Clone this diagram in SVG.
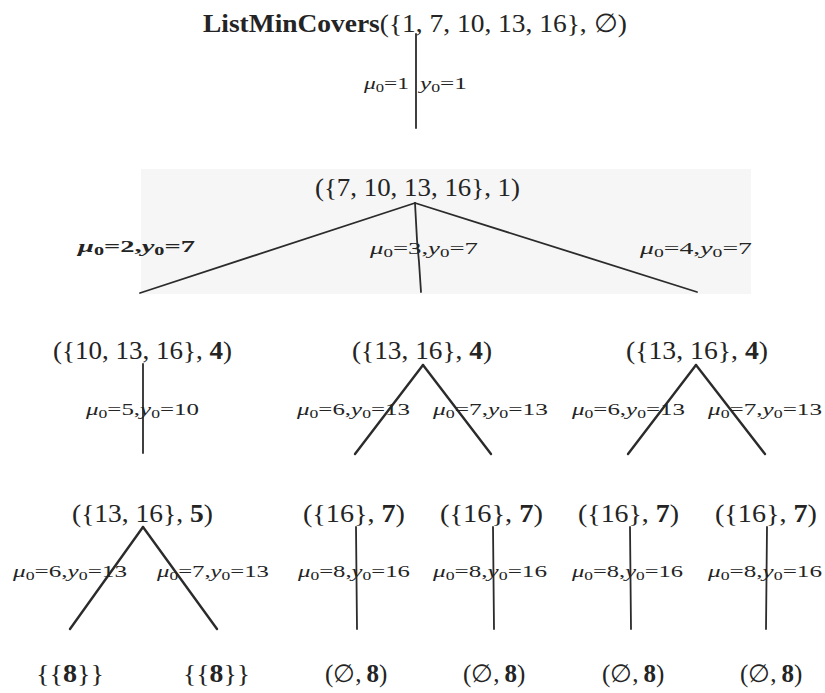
<svg xmlns="http://www.w3.org/2000/svg" width="825" height="693" viewBox="0 0 825 693">
  <style>
    .t { font-family: "Liberation Serif", "DejaVu Serif", serif; fill: #242424; }
    .n { font-size: 26px; }
    .lf { font-size: 25px; }
    .lb { font-size: 17px; }
    .b { font-weight: bold; }
    .i { font-style: italic; }
    .e { stroke: #2b2b2b; stroke-width: 1.8; fill: none; stroke-linecap: round; }
    .w { stroke-width: 2.4; }
  </style>
  <rect width="825" height="693" fill="#ffffff"/>
  <!-- shaded band behind the second level -->
  <rect x="141" y="169" width="610" height="125" fill="#f6f6f6"/>

  <g id="edges">
    <line class="e" x1="416" y1="34" x2="416" y2="128"/>
    <line class="e" x1="415" y1="203" x2="140" y2="293"/>
    <line class="e" x1="415" y1="203" x2="697" y2="292"/>
    <polyline class="e" points="415,203 417,240 419,262 421,292"/>
    <line class="e" x1="143" y1="364" x2="143" y2="453"/>
    <line class="e w" x1="423" y1="365" x2="355" y2="454"/>
    <line class="e w" x1="423" y1="365" x2="491" y2="454"/>
    <line class="e w" x1="696" y1="365" x2="628" y2="454"/>
    <line class="e w" x1="696" y1="365" x2="765" y2="454"/>
    <line class="e w" x1="143" y1="527" x2="70" y2="629"/>
    <line class="e w" x1="143" y1="527" x2="217" y2="629"/>
    <line class="e" x1="356" y1="527" x2="357" y2="629"/>
    <line class="e" x1="493" y1="527" x2="494" y2="629"/>
    <line class="e" x1="630" y1="527" x2="631" y2="629"/>
    <line class="e" x1="767" y1="527" x2="766" y2="629"/>
  </g>

  <g id="edge-labels" class="t lb">
    <text x="364" y="89" textLength="45" lengthAdjust="spacingAndGlyphs"><tspan class="i">μ</tspan><tspan dy="3" font-size="12">0</tspan><tspan dy="-3">=1</tspan></text>
    <text x="420" y="89" textLength="47" lengthAdjust="spacingAndGlyphs"><tspan class="i">y</tspan><tspan dy="3" font-size="12">0</tspan><tspan dy="-3">=1</tspan></text>

    <text class="b" x="78" y="252" textLength="117" lengthAdjust="spacingAndGlyphs"><tspan class="i">μ</tspan><tspan dy="3" font-size="12">0</tspan><tspan dy="-3">=2,</tspan><tspan class="i">y</tspan><tspan dy="3" font-size="12">0</tspan><tspan dy="-3">=7</tspan></text>
    <text x="370" y="254" textLength="108" lengthAdjust="spacingAndGlyphs"><tspan class="i">μ</tspan><tspan dy="3" font-size="12">0</tspan><tspan dy="-3">=3,</tspan><tspan class="i">y</tspan><tspan dy="3" font-size="12">0</tspan><tspan dy="-3">=7</tspan></text>
    <text x="640" y="254" textLength="112" lengthAdjust="spacingAndGlyphs"><tspan class="i">μ</tspan><tspan dy="3" font-size="12">0</tspan><tspan dy="-3">=4,</tspan><tspan class="i">y</tspan><tspan dy="3" font-size="12">0</tspan><tspan dy="-3">=7</tspan></text>

    <text x="86" y="415" textLength="113" lengthAdjust="spacingAndGlyphs"><tspan class="i">μ</tspan><tspan dy="3" font-size="12">0</tspan><tspan dy="-3">=5,</tspan><tspan class="i">y</tspan><tspan dy="3" font-size="12">0</tspan><tspan dy="-3">=10</tspan></text>
    <text x="297" y="415" textLength="113" lengthAdjust="spacingAndGlyphs"><tspan class="i">μ</tspan><tspan dy="3" font-size="12">0</tspan><tspan dy="-3">=6,</tspan><tspan class="i">y</tspan><tspan dy="3" font-size="12">0</tspan><tspan dy="-3">=13</tspan></text>
    <text x="433" y="415" textLength="115" lengthAdjust="spacingAndGlyphs"><tspan class="i">μ</tspan><tspan dy="3" font-size="12">0</tspan><tspan dy="-3">=7,</tspan><tspan class="i">y</tspan><tspan dy="3" font-size="12">0</tspan><tspan dy="-3">=13</tspan></text>
    <text x="572" y="415" textLength="113" lengthAdjust="spacingAndGlyphs"><tspan class="i">μ</tspan><tspan dy="3" font-size="12">0</tspan><tspan dy="-3">=6,</tspan><tspan class="i">y</tspan><tspan dy="3" font-size="12">0</tspan><tspan dy="-3">=13</tspan></text>
    <text x="708" y="415" textLength="114" lengthAdjust="spacingAndGlyphs"><tspan class="i">μ</tspan><tspan dy="3" font-size="12">0</tspan><tspan dy="-3">=7,</tspan><tspan class="i">y</tspan><tspan dy="3" font-size="12">0</tspan><tspan dy="-3">=13</tspan></text>

    <text x="13" y="577" textLength="114" lengthAdjust="spacingAndGlyphs"><tspan class="i">μ</tspan><tspan dy="3" font-size="12">0</tspan><tspan dy="-3">=6,</tspan><tspan class="i">y</tspan><tspan dy="3" font-size="12">0</tspan><tspan dy="-3">=13</tspan></text>
    <text x="157" y="577" textLength="112" lengthAdjust="spacingAndGlyphs"><tspan class="i">μ</tspan><tspan dy="3" font-size="12">0</tspan><tspan dy="-3">=7,</tspan><tspan class="i">y</tspan><tspan dy="3" font-size="12">0</tspan><tspan dy="-3">=13</tspan></text>
    <text x="298" y="577" textLength="112" lengthAdjust="spacingAndGlyphs"><tspan class="i">μ</tspan><tspan dy="3" font-size="12">0</tspan><tspan dy="-3">=8,</tspan><tspan class="i">y</tspan><tspan dy="3" font-size="12">0</tspan><tspan dy="-3">=16</tspan></text>
    <text x="433" y="577" textLength="114" lengthAdjust="spacingAndGlyphs"><tspan class="i">μ</tspan><tspan dy="3" font-size="12">0</tspan><tspan dy="-3">=8,</tspan><tspan class="i">y</tspan><tspan dy="3" font-size="12">0</tspan><tspan dy="-3">=16</tspan></text>
    <text x="572" y="577" textLength="111" lengthAdjust="spacingAndGlyphs"><tspan class="i">μ</tspan><tspan dy="3" font-size="12">0</tspan><tspan dy="-3">=8,</tspan><tspan class="i">y</tspan><tspan dy="3" font-size="12">0</tspan><tspan dy="-3">=16</tspan></text>
    <text x="708" y="577" textLength="114" lengthAdjust="spacingAndGlyphs"><tspan class="i">μ</tspan><tspan dy="3" font-size="12">0</tspan><tspan dy="-3">=8,</tspan><tspan class="i">y</tspan><tspan dy="3" font-size="12">0</tspan><tspan dy="-3">=16</tspan></text>
  </g>

  <g id="root" class="t n">
    <text x="203" y="32" textLength="424" lengthAdjust="spacingAndGlyphs"><tspan class="b">ListMinCovers</tspan>({1, 7, 10, 13, 16}, ∅)</text>
  </g>
  <g id="n1" class="t n">
    <text x="315" y="196" textLength="205" lengthAdjust="spacingAndGlyphs">({7, 10, 13, 16}, 1)</text>
  </g>
  <g id="n2a" class="t n">
    <text x="53" y="359" textLength="179" lengthAdjust="spacingAndGlyphs">({10, 13, 16}, <tspan class="b">4</tspan>)</text>
  </g>
  <g id="n2b" class="t n">
    <text x="352" y="359" textLength="140" lengthAdjust="spacingAndGlyphs">({13, 16}, <tspan class="b">4</tspan>)</text>
  </g>
  <g id="n2c" class="t n">
    <text x="626" y="359" textLength="142" lengthAdjust="spacingAndGlyphs">({13, 16}, <tspan class="b">4</tspan>)</text>
  </g>
  <g id="n3a" class="t n">
    <text x="72" y="522" textLength="141" lengthAdjust="spacingAndGlyphs">({13, 16}, <tspan class="b">5</tspan>)</text>
  </g>
  <g id="n3b" class="t n">
    <text x="303" y="522" textLength="102" lengthAdjust="spacingAndGlyphs">({16}, <tspan class="b">7</tspan>)</text>
  </g>
  <g id="n3c" class="t n">
    <text x="440" y="522" textLength="103" lengthAdjust="spacingAndGlyphs">({16}, <tspan class="b">7</tspan>)</text>
  </g>
  <g id="n3d" class="t n">
    <text x="578" y="522" textLength="101" lengthAdjust="spacingAndGlyphs">({16}, <tspan class="b">7</tspan>)</text>
  </g>
  <g id="n3e" class="t n">
    <text x="715" y="522" textLength="102" lengthAdjust="spacingAndGlyphs">({16}, <tspan class="b">7</tspan>)</text>
  </g>
  <g id="leaf1" class="t lf">
    <text x="36" y="682" textLength="68" lengthAdjust="spacingAndGlyphs">{{<tspan class="b">8</tspan>}}</text>
  </g>
  <g id="leaf2" class="t lf">
    <text x="183" y="682" textLength="67" lengthAdjust="spacingAndGlyphs">{{<tspan class="b">8</tspan>}}</text>
  </g>
  <g id="leaf3" class="t lf">
    <text x="325" y="682">(∅,&#8201;<tspan class="b">8</tspan>)</text>
  </g>
  <g id="leaf4" class="t lf">
    <text x="463" y="682">(∅,&#8201;<tspan class="b">8</tspan>)</text>
  </g>
  <g id="leaf5" class="t lf">
    <text x="602" y="682">(∅,&#8201;<tspan class="b">8</tspan>)</text>
  </g>
  <g id="leaf6" class="t lf">
    <text x="740" y="682">(∅,&#8201;<tspan class="b">8</tspan>)</text>
  </g>
</svg>
